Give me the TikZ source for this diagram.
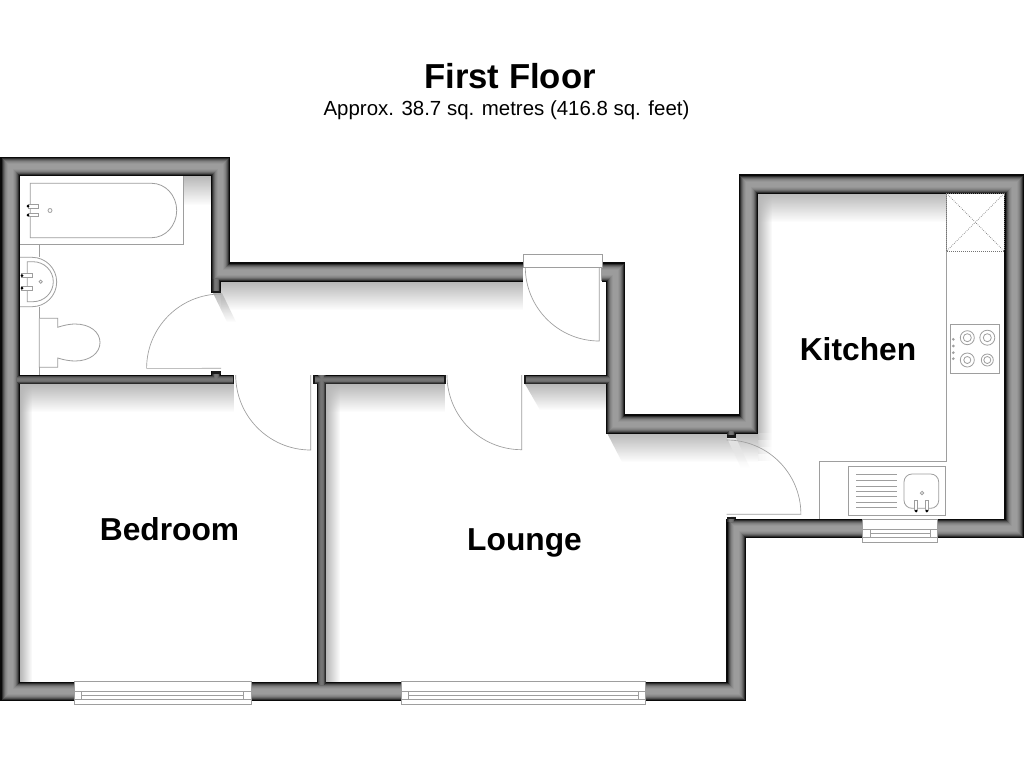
\documentclass[tikz,border=0pt]{standalone}
\usepackage{fontspec}
\setmainfont{Liberation Sans}
\usetikzlibrary{fadings}
\tikzfading[name=fadedown, top color=transparent!0, bottom color=transparent!100]
\tikzfading[name=faderight, left color=transparent!0, right color=transparent!100]
\definecolor{fix}{gray}{0.62}
\tikzset{
  fixture/.style={draw=fix, line width=0.6pt, fill=white},
  fixline/.style={draw=fix, line width=0.6pt},
  doorline/.style={draw=fix, line width=0.5pt},
  dashline/.style={draw=black!55, line width=0.5pt, densely dotted},
  shdown/.style={fill=black!28, path fading=fadedown},
  shsoft/.style={fill=black!10, path fading=fadedown},
  shright/.style={fill=black!28, path fading=faderight},
  wallend/.style={fill=black!90},
  title/.style={font=\bfseries\fontsize{26}{30}\selectfont, anchor=base},
  subtitle/.style={font=\fontsize{15.33}{18}\selectfont, anchor=base},
  room/.style={font=\bfseries\fontsize{23.8}{28}\selectfont, anchor=base},
  tapdot/.style={fill=black},
}
\begin{document}
\begin{tikzpicture}[x=0.75pt,y=-0.75pt]
\useasboundingbox (0,0) rectangle (1024,768);
\fill[white] (0,0) rectangle (1024,768);
% shadows
\fill[shdown] (183,176) rectangle (211,205);
\fill[shdown] (221,282) rectangle (523,310);
\fill[shdown] (213,293) -- (222,293) -- (236,322) -- (227,322) -- cycle;
\fill[shright] (20,384) rectangle (32,682);
\fill[shdown] (20,384) rectangle (234,412);
\fill[shright] (326,384) rectangle (340,682);
\fill[shdown] (326,384) rectangle (445,412);
\fill[shdown] (525,384) -- (606,384) -- (606,410) -- (540,410) -- cycle;
\fill[shdown] (607,433) -- (758,433) -- (758,462) -- (622,462) -- cycle;
\fill[shright] (758,193) rectangle (772,433);
\foreach \a/\b/\o in {433/440/0.8, 440/447/0.55, 447/454/0.35, 454/461/0.15}{
  \fill[shright, fill opacity=\o] (758,\a) rectangle (772,\b);
}
\fill[shsoft] (727,438) -- (736,438) -- (750,468) -- (741,468) -- cycle;
\fill[shdown] (758,193) rectangle (947,222);
% walls
\foreach \w/\t/\c/\d in {19.2/9.4/96/96, 17/8/82/84, 15/6.5/68/72, 13/5/58/62, 11/4/50/58, 9/3/45/56, 7/2/41/55, 5/1.5/39/54}{
  \draw[line width=0.75*\w pt, black!\c, line join=miter, miter limit=10]
    (523,272) -- (220.5,272) -- (220.5,166.5) -- (10,166.5) -- (10,691.5) -- (736,691.5)
    -- (736,528.5) -- (1014,528.5) -- (1014,184) -- (748.5,184) -- (748.5,424) -- (615.5,424)
    -- (615.5,272) -- (602,272);
  \draw[line width=0.75*\t pt, black!\d, line join=miter]
    (17,379.7) -- (234,379.7)
    (216,279) -- (216,293)
    (216,371) -- (216,380)
    (445.7,379.7) -- (313,379.7)
    (321.5,375) -- (321.5,685)
    (524,379.7) -- (610,379.7)
    (731.2,431) -- (731.2,437.5)
    (731.2,516.7) -- (731.2,522);
}
% wall end caps
\fill[wallend] (232.5,375) rectangle (234.3,384.4);
\fill[wallend] (211.5,290.5) rectangle (220.7,293);
\fill[wallend] (211.5,371) rectangle (220.7,373.5);
\fill[wallend] (313,375) rectangle (315,384.4);
\fill[wallend] (444,375) rectangle (445.8,384.4);
\fill[wallend] (524,375) rectangle (526,384.4);
\fill[wallend] (726.6,435) rectangle (735.8,437.5);
\fill[wallend] (726.6,516.7) rectangle (735.8,519);
% windows
\foreach \a/\b/\c/\d in {74/251.3/81.3/243.3, 401/645/408/638}{
  \draw[fixture] (\a,681.3) rectangle (\b,704.3);
  \draw[fixline] (\a,691.7) -- (\b,691.7) (\a,699.3) -- (\b,699.3)
    (\c,695.3) -- (\d,695.3) (\c,691.7) -- (\c,699.3) (\d,691.7) -- (\d,699.3);
}
\draw[fixture] (862.3,519.3) rectangle (937.7,542.3);
\draw[fixline] (862.3,529.3) -- (937.7,529.3) (862.3,537.3) -- (937.7,537.3)
  (870.3,533.3) -- (930,533.3) (870.3,529.3) -- (870.3,537.3) (930,529.3) -- (930,537.3);
% entrance door
\draw[fixture] (523.3,254) rectangle (602.3,267);
\draw[doorline] (525.3,267) arc[start angle=180, end angle=90, radius=74] -- (599.3,267);
\draw[doorline] (601.7,267) -- (601.7,281);
% other doors
\draw[doorline] (221,294) arc[start angle=-90, end angle=-180, radius=74.4] -- (221,368.3);
\draw[doorline] (235.7,375) arc[start angle=180, end angle=90, radius=75] -- (310.7,375);
\draw[doorline] (447,375) arc[start angle=180, end angle=90, radius=74.7] -- (521.7,375);
\draw[doorline] (726.7,440) arc[start angle=-90, end angle=0, radius=74.2] -- (726.7,514.3);
% bath
\fill[white] (20,176) rectangle (183.3,244.3);
\draw[fixline] (183.3,176) -- (183.3,244.3) -- (20,244.3);
\draw[fixline] (151.7,183.3) -- (30.3,183.3) -- (30.3,237.7) -- (151.7,237.7)
  arc[start angle=90, end angle=-90, x radius=25, y radius=27.2];
\draw[fixture] (28.5,204.3) rectangle (38.5,208);
\draw[fixture] (28.5,213.3) rectangle (38.5,216.7);
\fill[tapdot] (28,206.1) circle[radius=1.5];
\fill[tapdot] (28,215) circle[radius=1.5];
\draw[fixline] (50,210.5) circle[radius=2];
% basin
\draw[fixline] (39.3,244.3) -- (39.3,257.3) (39.3,306.7) -- (39.3,318.3);
\draw[fixture] (20,257.3) -- (32,257.3) arc[start angle=-90, end angle=90, radius=24.7] -- (20,306.7);
\draw[fixline] (33,261.7) -- (27.3,261.7) -- (27.3,301.7) -- (33,301.7)
  arc[start angle=90, end angle=-90, x radius=20.3, y radius=20];
\draw[fixture] (21.5,273.7) rectangle (32.7,277.3);
\draw[fixture] (21.5,286) rectangle (32.7,290);
\fill[tapdot] (22,275.5) circle[radius=1.5];
\fill[tapdot] (22,288) circle[radius=1.5];
\draw[fixline] (40.7,281.7) circle[radius=1.6];
% toilet
\draw[fixline] (39.3,367.3) -- (39.3,375);
\draw[fixline] (39.3,318.3) -- (57.7,318.3) -- (57.7,327.3)
  .. controls (66,324.5) and (72,324) .. (75,324)
  .. controls (90,324) and (100,332) .. (100,342.5)
  .. controls (100,353) and (90,361) .. (75,361)
  .. controls (70,361) and (64,360) .. (57.7,358)
  -- (57.7,367.3) -- (39.3,367.3) -- (39.3,318.3);
% kitchen worktop
\fill[white] (947,193.5) rectangle (1003.8,461);
\fill[white] (819.6,461.6) rectangle (1003.8,518.7);
\draw[fixline] (946.7,193) -- (946.7,461.3) -- (819.3,461.3) -- (819.3,519);
\draw[dashline] (946.7,193.5) rectangle (1004,251);
\draw[dashline] (946.7,193.5) -- (1004,251) (1004,193.5) -- (946.7,251);
% hob
\draw[fixture] (950.3,324.3) rectangle (999.3,373.3);
\foreach \x/\y/\r/\s in {967.3/337.7/7/4, 987.3/337.7/7.5/4, 967.3/360/7/3.5, 987.3/360/6/3.5}{
  \draw[fixline] (\x,\y) circle[radius=\r] (\x,\y) circle[radius=\s];
}
\foreach \y in {339.3,346,352.7,358.7}{ \draw[fixline] (953.3,\y) circle[radius=0.9]; }
% sink
\draw[fixture] (848.3,466.3) rectangle (945.7,515.7);
\foreach \y in {474,480.7,486,491,496.7,502,507.3}{ \draw[fixline] (856,\y) -- (897,\y); }
\draw[fixline, rounded corners=6pt] (904,474) rectangle (938.7,508.3);
\draw[fixture] (914.3,500.3) rectangle (917.7,510.7);
\draw[fixture] (925,500.3) rectangle (928.7,510.7);
\fill[tapdot] (916,511) circle[radius=1.5];
\fill[tapdot] (926.8,511) circle[radius=1.5];
\draw[fixline] (922,493) circle[radius=1.7];
% texts
\node[title] (t1) at (510,88) {First Floor};
\node[subtitle] (t2) at (506.5,115) {Approx. 38.7 sq. metres (416.8 sq. feet)};
\node[room] (kitchen) at (858,360) {Kitchen};
\node[room] (bedroom) at (169.5,540) {Bedroom};
\node[room] (lounge) at (524.5,550) {Lounge};
\end{tikzpicture}
\end{document}
